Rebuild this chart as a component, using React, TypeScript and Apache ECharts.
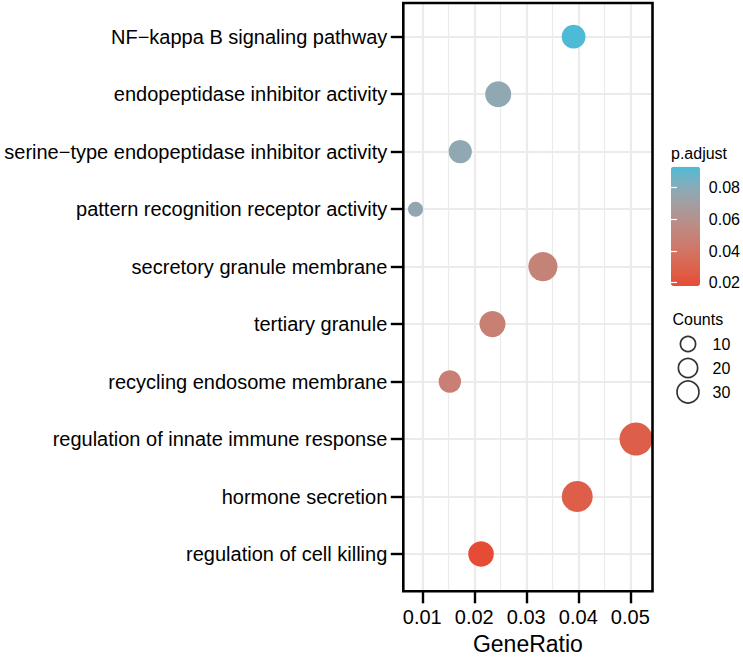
import React, { useEffect, useRef } from 'react';
import * as echarts from 'echarts';

// ---------- data ----------
const terms = [
  'NF−kappa B signaling pathway',
  'endopeptidase inhibitor activity',
  'serine−type endopeptidase inhibitor activity',
  'pattern recognition receptor activity',
  'secretory granule membrane',
  'tertiary granule',
  'recycling endosome membrane',
  'regulation of innate immune response',
  'hormone secretion',
  'regulation of cell killing',
];
const geneRatio = [0.0391, 0.0246, 0.0173, 0.0087, 0.0332, 0.0235, 0.0153, 0.0511, 0.0398, 0.0213];
const counts = [13, 17, 12, 6, 24, 17, 11, 35, 29, 16];
const pAdjust = [0.0933, 0.0775, 0.0772, 0.077, 0.0496, 0.0473, 0.047, 0.0273, 0.0275, 0.0179];
const xTicks = [0.01, 0.02, 0.03, 0.04, 0.05];
const colorTicks = [0.02, 0.04, 0.06, 0.08];
const sizeBreaks = [10, 20, 30];
// red -> blue gradient, sampled in Lab space
const gradientStops = ['#E64B35', '#DE5F49', '#D56F5C', '#CA7E72', '#BD8B83', '#AC9897', '#98A4AB', '#7BB0C0', '#4DBBD5'];

// ---------- layout ----------
const FONT = "'Liberation Sans', Arial, Helvetica, sans-serif";
const PL = 403.3, PR = 652.5, PT = 3, PB = 591.3; // panel border
const ROW_TOP = 36.7, ROW_BOTTOM = 558.7;
const X_MIN = 0.00635, X_MAX = 0.05427;
const pxOf = (v: number) => PL + ((v - X_MIN) / (X_MAX - X_MIN)) * (PR - PL);
const CB_L = 671, CB_T = 166.7, CB_W = 29, CB_H = 119.3;

const cMin = Math.min(...counts), cMax = Math.max(...counts);
const sizeOf = (c: number) => 15 + 18 * Math.sqrt(Math.max(0, (c - cMin) / (cMax - cMin)));
const pMin = Math.min(...pAdjust), pMax = Math.max(...pAdjust);

export default function App() {
  const ref = useRef<HTMLDivElement>(null);
  useEffect(() => {
    document.body.style.margin = '0';
    const chart = echarts.init(ref.current!, null, { renderer: 'svg' });
    const x0 = pxOf(xTicks[0]);
    const x1 = pxOf(xTicks[xTicks.length - 1]);
    const option: any = {
      animation: false,
      backgroundColor: '#ffffff',
      textStyle: { fontFamily: FONT },
      grid: [
        { left: PL, top: ROW_TOP, width: PR - PL, height: ROW_BOTTOM - ROW_TOP },
        { left: x0, top: PT, width: x1 - x0, height: PB - PT },
        { left: CB_L, top: CB_T, width: CB_W, height: CB_H },
        { left: 676, top: 344, width: 24, height: 48 },
      ],
      xAxis: [
        {
          gridIndex: 0, type: 'value', min: X_MIN, max: X_MAX,
          name: 'GeneRatio', nameLocation: 'middle', nameGap: 78,
          nameTextStyle: { fontSize: 23, color: '#000', fontFamily: FONT },
          axisLine: { show: false }, axisTick: { show: false }, axisLabel: { show: false },
          splitLine: { show: false },
        },
        {
          gridIndex: 1, type: 'value', min: xTicks[0], max: xTicks[xTicks.length - 1], interval: 0.01,
          axisLine: { show: false },
          axisTick: { show: true, length: 12, lineStyle: { color: '#000', width: 2.4 } },
          axisLabel: { fontSize: 20, color: '#000', margin: 16, fontFamily: FONT, formatter: (v: number) => v.toFixed(2) },
          splitLine: { show: true, lineStyle: { color: '#EBEBEB', width: 2.2 } },
          minorTick: { show: true, splitNumber: 2, length: 0, lineStyle: { opacity: 0 } },
          minorSplitLine: { show: true, lineStyle: { color: '#EBEBEB', width: 1.2 } },
        },
        { gridIndex: 2, type: 'value', show: false, min: 0, max: 1 },
        { gridIndex: 3, type: 'value', show: false, min: 0, max: 1 },
      ],
      yAxis: [
        {
          gridIndex: 0, type: 'category', data: terms, inverse: true, boundaryGap: false,
          axisLine: { show: false },
          axisTick: { show: true, interval: 0, length: 12.5, lineStyle: { color: '#000', width: 2.4 } },
          axisLabel: { interval: 0, fontSize: 20, color: '#000', margin: 16, fontFamily: FONT, padding: [4, 0, 0, 0] },
          splitLine: { show: true, interval: 0, lineStyle: { color: '#EBEBEB', width: 2.2 } },
        },
        { gridIndex: 1, type: 'value', show: false, min: 0, max: 1 },
        {
          gridIndex: 2, type: 'value', position: 'right', min: pMin, max: pMax, z: 10,
          axisLine: { show: false },
          axisTick: { show: true, inside: true, length: 6, customValues: colorTicks, lineStyle: { color: '#fff', width: 1.2 } },
          axisLabel: { show: true, margin: 9.5, fontSize: 16, color: '#000', fontFamily: FONT, customValues: colorTicks, formatter: (v: number) => v.toFixed(2) },
          splitLine: { show: false },
        },
        {
          gridIndex: 2, type: 'value', position: 'left', min: pMin, max: pMax, z: 10,
          axisLine: { show: false },
          axisTick: { show: true, inside: true, length: 6, customValues: colorTicks, lineStyle: { color: '#fff', width: 1.2 } },
          axisLabel: { show: false },
          splitLine: { show: false },
        },
        {
          gridIndex: 3, type: 'category', data: sizeBreaks.map(String), inverse: true, boundaryGap: false,
          position: 'right',
          axisLine: { show: false }, axisTick: { show: false },
          axisLabel: { interval: 0, margin: 12.5, fontSize: 16, color: '#000', fontFamily: FONT },
          splitLine: { show: false },
        },
      ],
      visualMap: {
        type: 'continuous', seriesIndex: 0, dimension: 3, min: pMin, max: pMax,
        left: CB_L, top: CB_T, itemWidth: CB_W, itemHeight: CB_H, padding: 0,
        calculable: false, realtime: false, hoverLink: false, text: null, showLabel: false,
        inRange: { color: gradientStops },
      },
      series: [
        {
          type: 'scatter', xAxisIndex: 0, yAxisIndex: 0, clip: false,
          symbol: 'circle',
          symbolSize: (v: any[]) => sizeOf(v[2]),
          data: terms.map((t, i) => [geneRatio[i], t, counts[i], pAdjust[i]]),
          itemStyle: { opacity: 1 },
          silent: true,
        },
        {
          type: 'scatter', xAxisIndex: 3, yAxisIndex: 4, clip: false,
          symbol: 'circle',
          symbolSize: (v: any[]) => 0.7 * sizeOf(v[2]),
          data: sizeBreaks.map((b) => [0.5, String(b), b]),
          itemStyle: { color: 'rgba(0,0,0,0)', borderColor: '#000', borderWidth: 1.7 },
          silent: true,
        },
      ],
      graphic: [
        {
          type: 'rect', z: 100, silent: true,
          shape: { x: PL, y: PT, width: PR - PL, height: PB - PT },
          style: { fill: 'none', stroke: '#000', lineWidth: 2.6 },
        },
        {
          type: 'text', z: 100, silent: true,
          style: { x: 671, y: 153.5, text: 'p.adjust', fontSize: 16, fill: '#000', fontFamily: FONT, verticalAlign: 'middle' },
        },
        {
          type: 'text', z: 100, silent: true,
          style: { x: 672.5, y: 319, text: 'Counts', fontSize: 16, fill: '#000', fontFamily: FONT, verticalAlign: 'middle' },
        },
      ],
    };
    chart.setOption(option);
    return () => chart.dispose();
  }, []);
  return <div ref={ref} style={{ position: 'absolute', left: 0, top: 0, width: 743, height: 660 }} />;
}
